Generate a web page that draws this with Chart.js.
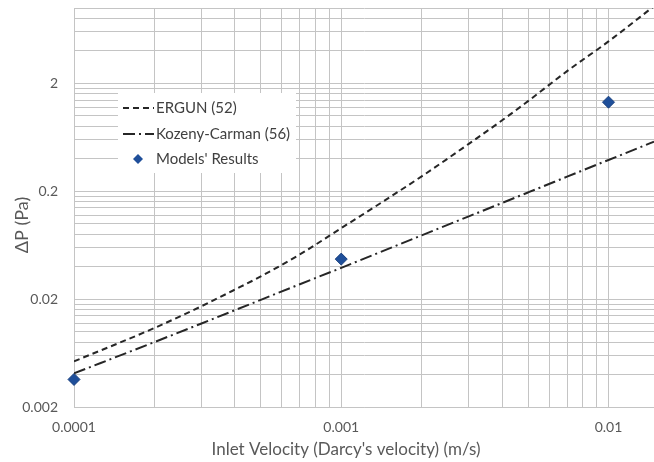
<!DOCTYPE html>
<html><head><meta charset="utf-8">
<script src="https://cdn.jsdelivr.net/npm/chart.js@4.4.0/dist/chart.umd.min.js"></script>
<style>html,body{margin:0;padding:0;background:#fff;overflow:hidden}#wrap{width:654px;height:462px;position:relative}</style>
</head><body><div id="wrap"><canvas id="c"></canvas></div>
<script>
// ---- data ----
const velocities   = [0.0001, 0.0002, 0.0003, 0.0004, 0.0005, 0.0007, 0.001, 0.002, 0.003, 0.004, 0.005, 0.007, 0.01, 0.0148];
const ergunValues  = [0.0053, 0.0108, 0.0172, 0.0245, 0.0325, 0.052, 0.091, 0.275, 0.55, 0.91, 1.37, 2.6, 4.9, 10.4];
const kozenyValues = [0.0041, 0.0080, 0.0119, 0.0158, 0.0197, 0.0275, 0.039, 0.078, 0.117, 0.156, 0.195, 0.273, 0.39, 0.577];
const modelVelocities = [0.0001, 0.001, 0.01];
const modelValues     = [0.0036, 0.047, 1.34];

const seriesNames = ['ERGUN (52)', 'Kozeny-Carman (56)', "Models' Results"];
const xTitle = "Inlet Velocity (Darcy's velocity) (m/s)";
const yTitle = 'ΔP (Pa)';

// ticks / gridlines
const xGridValues = [0.0001,0.0002,0.0003,0.0004,0.0005,0.0006,0.0007,0.0008,0.0009,
                     0.001,0.002,0.003,0.004,0.005,0.006,0.007,0.008,0.009,0.01];
const xTickValues = [0.0001, 0.001, 0.01];
const xTickLabels = ['0.0001', '0.001', '0.01'];
const yGridValues = [0.002,0.004,0.006,0.008,0.010,0.012,0.014,0.016,0.018,
                     0.02,0.04,0.06,0.08,0.10,0.12,0.14,0.16,0.18,
                     0.2,0.4,0.6,0.8,1.0,1.2,1.4,1.6,1.8,
                     2,4,6,8,10];
const yTickValues = [0.002, 0.02, 0.2, 2];
const yTickLabels = ['0.002', '0.02', '0.2', '2'];

const FONT = 'Lato, "Open Sans", sans-serif';
const TXT = '#595959';
const GRID = '#c4c4c4';
const LINE = '#262626';
const DIAMOND = '#1f4f9a';

function labelFor(values, labels, v) {
  for (let i = 0; i < values.length; i++) if (Math.abs(values[i] - v) / values[i] < 1e-6) return labels[i];
  return '';
}

const legendPlugin = {
  id: 'insideLegend',
  afterDatasetsDraw(chart) {
    const ctx = chart.ctx;
    const bx = 118, by = 93, bw = 178, bh = 80;
    ctx.save();
    ctx.fillStyle = '#ffffff';
    ctx.fillRect(bx, by, bw, bh);
    const rows = [108, 134, 159];
    ctx.font = '15px ' + FONT;
    ctx.textBaseline = 'middle';
    ctx.textAlign = 'left';
    ctx.strokeStyle = LINE; ctx.lineWidth = 2;
    ctx.setLineDash([6, 4]);
    ctx.beginPath(); ctx.moveTo(123, rows[0]); ctx.lineTo(154, rows[0]); ctx.stroke();
    ctx.setLineDash([12, 4, 2, 4]);
    ctx.beginPath(); ctx.moveTo(123, rows[1]); ctx.lineTo(154, rows[1]); ctx.stroke();
    ctx.setLineDash([]);
    ctx.fillStyle = DIAMOND;
    ctx.beginPath();
    const cx = 138, cy = rows[2], r = 5;
    ctx.moveTo(cx, cy - r); ctx.lineTo(cx + r, cy); ctx.lineTo(cx, cy + r); ctx.lineTo(cx - r, cy); ctx.closePath();
    ctx.fill();
    ctx.fillStyle = '#404040';
    ctx.fillText(seriesNames[0], 156, rows[0]);
    ctx.fillText(seriesNames[1], 156, rows[1]);
    ctx.fillText(seriesNames[2], 156, rows[2]);
    ctx.restore();
  }
};

const titlePlugin = {
  id: 'axisTitles',
  afterDraw(chart) {
    const ctx = chart.ctx;
    ctx.save();
    ctx.fillStyle = TXT;
    ctx.textAlign = 'center';
    ctx.textBaseline = 'alphabetic';
    ctx.font = '17px ' + FONT;
    ctx.fillText(xTitle, 346, 455);
    ctx.translate(28, 225);
    ctx.rotate(-Math.PI / 2);
    ctx.font = '18px ' + FONT;
    ctx.fillText(yTitle, 0, 0);
    ctx.restore();
  }
};

new Chart(document.getElementById('c'), {
  type: 'line',
  data: {
    datasets: [
      {
        label: seriesNames[0],
        data: velocities.map((v, i) => ({x: v, y: ergunValues[i]})),
        borderColor: LINE, borderWidth: 2, borderDash: [6, 4],
        pointRadius: 0, fill: false, cubicInterpolationMode: 'monotone'
      },
      {
        label: seriesNames[1],
        data: velocities.map((v, i) => ({x: v, y: kozenyValues[i]})),
        borderColor: LINE, borderWidth: 2, borderDash: [12, 4, 2, 4],
        pointRadius: 0, fill: false, cubicInterpolationMode: 'monotone'
      },
      {
        label: seriesNames[2],
        data: modelVelocities.map((v, i) => ({x: v, y: modelValues[i]})),
        showLine: false,
        pointStyle: 'rectRot', pointRadius: 6, pointHoverRadius: 6,
        backgroundColor: DIAMOND, borderColor: '#183f7e', borderWidth: 1,
        clip: false
      }
    ]
  },
  options: {
    responsive: true, maintainAspectRatio: false, animation: false,
    layout: {autoPadding: false, padding: {top: 8, right: 0, bottom: 0, left: 0}},
    plugins: {legend: {display: false}, tooltip: {enabled: false}},
    scales: {
      x: {
        type: 'logarithmic', min: 0.0001, max: 0.0148,
        afterBuildTicks: s => { s.ticks = xGridValues.map(v => ({value: v})); },
        afterFit: s => { s.height = 55; s.paddingLeft = 0; s.paddingRight = 0; },
        grid: {color: GRID, lineWidth: 1, drawTicks: false},
        border: {color: GRID},
        ticks: {
          autoSkip: false, maxRotation: 0, padding: 12, color: TXT,
          font: {family: FONT, size: 14},
          callback: v => labelFor(xTickValues, xTickLabels, v)
        },
        title: {display: false}
      },
      y: {
        type: 'logarithmic', min: 0.002, max: 10,
        afterBuildTicks: s => { s.ticks = yGridValues.map(v => ({value: v})); },
        afterFit: s => { s.width = 74; s.paddingTop = 0; s.paddingBottom = 0; },
        grid: {color: GRID, lineWidth: 1, drawTicks: false},
        border: {color: GRID},
        ticks: {
          autoSkip: false, padding: 16, color: TXT,
          font: {family: FONT, size: 14},
          callback: v => labelFor(yTickValues, yTickLabels, v)
        },
        title: {display: false}
      }
    }
  },
  plugins: [legendPlugin, titlePlugin]
});
</script>
</body></html>
